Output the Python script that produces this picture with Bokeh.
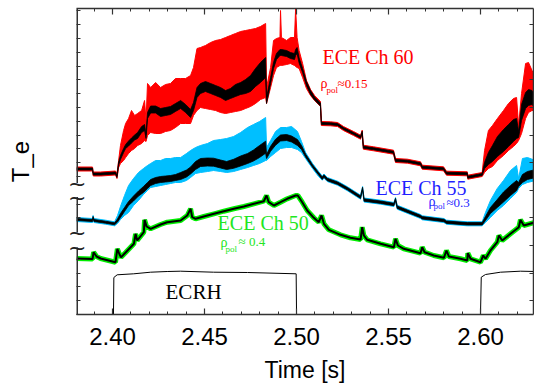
from bokeh.plotting import figure
from bokeh.models import (Range1d, LinearAxis, FixedTicker, PrintfTickFormatter, Label,
                          CustomLabelingPolicy, CustomJSTickFormatter, AllLabels)
from bokeh.embed import file_html
from bokeh.resources import INLINE

# ---------------- data (time in s, T_e in arbitrary units) ----------------
t60 = [2.3804, 2.3891, 2.3895, 2.3935, 2.4016, 2.4024, 2.4033, 2.4043, 2.4060, 2.4071,
       2.4087, 2.4103, 2.4120, 2.4136, 2.4158, 2.4174, 2.4182, 2.4190, 2.4207, 2.4234,
       2.4261, 2.4288, 2.4315, 2.4342, 2.4370, 2.4397, 2.4424, 2.4440, 2.4459, 2.4478,
       2.4505, 2.4533, 2.4560, 2.4587, 2.4614, 2.4641, 2.4668, 2.4696, 2.4723, 2.4750,
       2.4777, 2.4804, 2.4832, 2.4837, 2.4859, 2.4875, 2.4891, 2.4910, 2.4913, 2.4918,
       2.4946, 2.4967, 2.4989, 2.4995, 2.5003, 2.5014, 2.5033, 2.5054, 2.5076, 2.5098,
       2.5130, 2.5135, 2.5185, 2.5223, 2.5255, 2.5310, 2.5348, 2.5357, 2.5363, 2.5419,
       2.5527, 2.5538, 2.5603, 2.5674, 2.5683, 2.5799, 2.5815, 2.5928, 2.5931, 2.6009,
       2.6022, 2.6043, 2.6065, 2.6092, 2.6125, 2.6152, 2.6179, 2.6196, 2.6207, 2.6223,
       2.6245, 2.6261, 2.6280, 2.6299]
hi60 = [147.5, 147.5, 142.5, 142.5, 143.5, 141, 154, 169, 184, 191,
        196, 204, 199, 201, 204, 214, 194, 231, 227, 232,
        227, 230, 231, 236, 236, 236, 239, 247, 266, 267,
        269, 272, 274, 275, 277, 279, 281, 283, 284, 285,
        286, 288, 291, 227, 247, 274, 276, 277, 304, 277,
        274, 277, 277, 306, 277, 264, 251, 234, 225, 219,
        213, 193, 192.7, 192, 188, 183, 179.3, 184.3, 169.3, 167.7,
        164.3, 156, 155.3, 152.7, 149.3, 147.7, 143.3, 142.7, 139.3, 142,
        164, 184, 189, 196, 204, 211, 216, 217, 189, 221,
        251, 252, 244, 237]
lo60 = [143.5, 143.5, 138.5, 138.5, 139.5, 136, 147, 151, 154, 157,
        161, 164, 166, 169, 171, 174, 173, 179, 182, 181,
        181, 183, 184, 187, 191, 191, 191, 199, 204, 207,
        206, 205, 204, 202, 201, 202, 203, 204, 206, 208,
        211, 215, 217, 211, 227, 239, 247, 249, 249, 249,
        250, 251, 249, 248, 247, 246, 237, 226, 219, 214,
        208, 189, 188.7, 188, 184, 179, 175.3, 180.3, 165.3, 163.7,
        160.3, 152, 151.3, 148.7, 145.3, 143.7, 139.3, 138.7, 135.3, 138,
        142, 146, 148, 154, 159, 164, 168, 171, 174, 181,
        196, 202, 204, 204]
bhi60 = [146.5, 146.5, 141.5, 141.5, 142.5, 139, 152.5, 159, 166, 170,
         173.5, 176.5, 179.5, 182, 188, 190, 180, 202, 208.5, 208.5,
         206, 207, 208, 211, 214, 210, 205, 212, 227, 231,
         233, 231, 229, 227, 224, 226, 230, 232, 235, 239,
         246, 252, 257, 217, 237, 252, 261, 265, 265, 265,
         264, 262, 261, 265, 267, 256.5, 246, 233, 224, 217.5,
         211.5, 192, 191.7, 191, 187, 182, 178.3, 183.3, 168.3, 166.7,
         163.3, 155, 154.3, 151.7, 148.3, 146.7, 142.3, 141.7, 138.3, 141,
         152, 162, 169, 178, 185, 190, 195, 196, 183, 210,
         222, 225, 224, 218]
blo60 = [144.5, 144.5, 139.5, 139.5, 140.5, 137, 149.5, 155, 162, 166,
         168.5, 171.5, 174.5, 176, 182, 184, 176, 196, 201.5, 201.5,
         198, 199, 200, 203, 206, 202, 197, 204, 217, 221,
         223, 221, 219, 217, 214, 216, 218, 220, 221, 223,
         228, 232, 237, 211, 231, 246, 255, 259, 259, 259,
         258, 256, 255, 259, 261, 251.5, 242, 229, 220, 214.5,
         208.5, 190, 189.7, 189, 185, 180, 176.3, 181.3, 166.3, 164.7,
         161.3, 153, 152.3, 149.7, 146.3, 144.7, 140.3, 139.7, 136.3, 139,
         146, 150, 153, 158, 163, 168, 173, 176, 177, 194,
         206, 209, 210, 206]

t55 = [2.3804, 2.3891, 2.3894, 2.3899, 2.3962, 2.4011, 2.4027, 2.4043, 2.4065, 2.4087,
       2.4114, 2.4141, 2.4168, 2.4190, 2.4207, 2.4234, 2.4261, 2.4288, 2.4315, 2.4342,
       2.4370, 2.4402, 2.4424, 2.4451, 2.4478, 2.4516, 2.4549, 2.4587, 2.4620, 2.4658,
       2.4696, 2.4734, 2.4766, 2.4799, 2.4832, 2.4837, 2.4859, 2.4886, 2.4913, 2.4946,
       2.4973, 2.5005, 2.5027, 2.5049, 2.5087, 2.5120, 2.5140, 2.5149, 2.5167, 2.5223,
       2.5277, 2.5348, 2.5359, 2.5367, 2.5457, 2.5529, 2.5538, 2.5547, 2.5674, 2.5683,
       2.5801, 2.5815, 2.5928, 2.6009, 2.6027, 2.6054, 2.6091, 2.6125, 2.6163, 2.6196,
       2.6207, 2.6228, 2.6255, 2.6299]
hi55 = [97, 96, 99, 96, 94.3, 92.7, 99, 108, 119, 129,
        136, 142, 146, 149, 151, 154, 154, 156, 156, 157,
        157, 161, 164, 167, 169, 171, 174, 175, 176, 178,
        182, 187, 190, 193, 197, 167, 174, 183, 187, 187,
        188, 183, 173, 162, 151, 143, 138.3, 140.5, 137, 133.3,
        127.7, 119.3, 128, 116.5, 114.3, 112, 117, 109.3, 100, 98.7,
        96, 94.3, 92.7, 92.7, 102, 114, 126, 134, 144, 149,
        136, 156, 157, 154]
lo55 = [93, 92, 95, 92, 90.3, 88.7, 91, 95, 99, 102,
        109, 114, 120, 124, 127, 128, 129, 130, 131, 132,
        132, 134, 137, 141, 142, 143, 144, 143, 142, 143,
        145, 147, 149, 151, 154, 154, 158, 162, 166, 167,
        167, 165, 162, 156, 146, 138, 134.3, 136.5, 133, 129.3,
        123.7, 115.3, 124, 112.5, 110.3, 108, 113, 105.3, 96, 94.7,
        92, 90.3, 88.7, 88.7, 92, 97, 104, 109, 116, 122,
        126, 130, 132, 134]
bhi55 = [96, 95, 98, 95, 93.3, 91.7, 95.5, 101, 107, 113,
         118.5, 123.5, 128, 132, 135, 137, 138, 138.5, 139, 140,
         142, 144.5, 147.5, 153, 156, 156.5, 156.3, 154.5, 153, 155.2,
         158.5, 161, 164.5, 169, 173.3, 160, 168.2, 175.3, 179.5, 180,
         178.5, 175, 169, 160.5, 149.7, 141.9, 137.5, 139.7, 136.2, 132.5,
         126.9, 118.5, 127.2, 115.7, 113.5, 111.2, 116.2, 108.5, 99.2, 97.9,
         95.2, 93.5, 91.9, 91.9, 98, 107, 115, 122.5, 129, 134,
         132, 140, 143, 145]
blo55 = [94, 93, 96, 93, 91.3, 89.7, 92.5, 97, 103, 109,
         113.5, 118.5, 122, 126, 129, 131, 132, 132.5, 133, 134,
         135, 137.5, 140.5, 145, 148, 148.5, 148.3, 146.5, 145, 146.2,
         148.5, 151, 153.5, 157, 161.3, 156, 163.2, 169.3, 173.5, 174,
         172.5, 169, 165, 157.5, 147.3, 139.5, 135.1, 137.3, 133.8, 130.1,
         124.5, 116.1, 124.8, 113.3, 111.1, 108.8, 113.8, 106.1, 96.8, 95.5,
         92.8, 91.1, 89.5, 89.5, 94, 101, 107, 112.5, 119, 124,
         128, 132, 135, 137]

t50 = [2.3804, 2.3891, 2.3897, 2.3913, 2.3935, 2.4016, 2.4026, 2.4038, 2.4046, 2.4071,
       2.4116, 2.4125, 2.4134, 2.4170, 2.4174, 2.4185, 2.4207, 2.4261, 2.4297, 2.4370,
       2.4406, 2.4424, 2.4433, 2.4451, 2.4496, 2.4551, 2.4605, 2.4659, 2.4714, 2.4768,
       2.4822, 2.4837, 2.4849, 2.4877, 2.4913, 2.4949, 2.4995, 2.5007, 2.5031, 2.5058,
       2.5094, 2.5121, 2.5136, 2.5149, 2.5176, 2.5239, 2.5293, 2.5348, 2.5357, 2.5366,
       2.5384, 2.5457, 2.5529, 2.5538, 2.5551, 2.5583, 2.5674, 2.5683, 2.5696, 2.5746,
       2.5801, 2.5815, 2.5828, 2.5891, 2.5928, 2.5931, 2.5946, 2.6000, 2.6015, 2.6027,
       2.6054, 2.6091, 2.6100, 2.6118, 2.6163, 2.6208, 2.6217, 2.6235, 2.6299]
te50 = [56, 55.5, 62.3, 58, 56, 52.3, 65.7, 60, 57.3, 62,
        70.7, 80.7, 74, 82.3, 94.7, 88, 85.7, 90, 92.3, 94,
        99, 105.7, 97.3, 95.7, 98, 100.7, 103.3, 105.7, 108, 110.7,
        113.3, 119, 112.3, 109, 112.3, 115.7, 119, 119, 112.3, 104,
        96.7, 92.3, 99, 90.7, 84.7, 79.7, 76.7, 75, 87.3, 79,
        74.7, 70.7, 67.3, 75.7, 69, 65.7, 61.3, 67.3, 62.3, 59,
        56.7, 64, 58, 55.7, 54, 61.3, 55.7, 52.3, 59, 55.7,
        64, 72.3, 79, 74, 80.7, 87.3, 94.7, 89, 92.3]

t_rh = [2.3804, 2.4005, 2.4007, 2.4025, 2.4115, 2.4207, 2.4297, 2.4370, 2.4549,
        2.4734, 2.4998, 2.5000, 2.6000, 2.6004, 2.6027, 2.6109, 2.6217, 2.6299]
p_rh = [0, 0, 37, 39.7, 40.7, 42.3, 43, 43.3, 42.3,
        42, 40.7, 0, 0, 37.3, 40, 42.3, 43.3, 43]

# axis ticks and axis-break positions
x_major = [2.40, 2.45, 2.50, 2.55, 2.60]
x_minor = [2.38, 2.39, 2.41, 2.42, 2.43, 2.44, 2.46, 2.47, 2.48, 2.49,
           2.51, 2.52, 2.53, 2.54, 2.56, 2.57, 2.58, 2.59, 2.61, 2.62]
y_step = 13.8
y_left_k = [0, 1, 2, 3, 4, 7, 8, 10, 11, 12, 13, 14, 15, 16, 17, 18, 19, 20, 21, 22]
y_right_k = [1, 3, 5, 7, 9, 11, 13, 15, 17, 19, 21]
break_marks = [67.0, 82.0, 117.5, 131.5]
spine_lo = [0.0, 82.0, 131.5]
spine_hi = [67.0, 117.5, 306.0]

RED = "#ff0000"
CYAN = "#00bfff"
GREEN = "#00ee00"
AX = "#333333"

x_start, x_end = 2.3804, 2.6288
p = figure(width=534, height=388, output_backend="svg", toolbar_location=None,
           x_range=Range1d(x_start, x_end), y_range=Range1d(0, 306),
           min_border_left=76, min_border_right=1, min_border_top=8, min_border_bottom=74)
p.xgrid.visible = False
p.ygrid.visible = False
p.outline_line_color = None
p.background_fill_color = "white"
p.border_fill_color = "white"


def band(t, hi, lo, bhi, blo, color):
    p.varea(x=t, y1=lo, y2=hi, fill_color=color)
    p.line(t, hi, line_color=color, line_width=1)
    p.line(t, lo, line_color=color, line_width=1)
    p.varea(x=t, y1=blo, y2=bhi, fill_color="black")
    p.line(t, bhi, line_color="black", line_width=0.8)
    p.line(t, blo, line_color="black", line_width=0.8)


band(t60, hi60, lo60, bhi60, blo60, RED)
band(t55, hi55, lo55, bhi55, blo55, CYAN)
p.line(t50, te50, line_color=GREEN, line_width=5)
p.line(t50, te50, line_color="black", line_width=2)
p.line(t_rh, p_rh, line_color="black", line_width=1)

# broken left spine (half of the width falls inside the frame)
p.segment(x0=[x_start] * len(spine_lo), y0=spine_lo, x1=[x_start] * len(spine_hi), y1=spine_hi,
          line_color=AX, line_width=3)

NO_LABELS = CustomLabelingPolicy(code="for (const i of indices) { indices.unset(i) } return indices")


def style_axis(ax):
    ax.axis_line_color = AX
    ax.axis_line_width = 1.5
    ax.major_tick_line_color = AX
    ax.minor_tick_line_color = AX
    ax.major_tick_line_width = 1.2
    ax.minor_tick_line_width = 1
    ax.major_tick_out = 0
    ax.minor_tick_out = 0


def hide_labels(ax):
    ax.major_label_text_font_size = "0px"
    ax.major_label_standoff = 0
    ax.major_label_policy = NO_LABELS


xa = p.xaxis[0]
style_axis(xa)
xa.ticker = FixedTicker(ticks=x_major, minor_ticks=x_minor)
xa.formatter = PrintfTickFormatter(format="%.2f")
xa.major_tick_in = 6
xa.minor_tick_in = 3
xa.major_label_text_font = "Liberation Sans"
xa.major_label_text_font_size = "24px"
xa.major_label_text_color = "black"
xa.major_label_standoff = 13
xa.axis_label = "Time [s]"
xa.axis_label_text_font = "Liberation Sans"
xa.axis_label_text_font_size = "23px"
xa.axis_label_text_font_style = "normal"
xa.axis_label_text_color = "black"
xa.axis_label_standoff = 9

# left axis: ticks inward, axis-break marks drawn as the major labels
ya = p.yaxis[0]
style_axis(ya)
ya.axis_line_color = None
ya.ticker = FixedTicker(ticks=break_marks, minor_ticks=[k * y_step for k in y_left_k])
ya.formatter = CustomJSTickFormatter(code="return '~'")
ya.major_tick_line_color = None
ya.major_tick_in = 0
ya.minor_tick_in = 4
ya.major_label_policy = AllLabels()
ya.major_label_text_font = "DejaVu Sans"
ya.major_label_text_font_size = "22px"
ya.major_label_text_color = "#222222"
ya.major_label_standoff = -10
ya.axis_label = "T_e"
ya.axis_label_text_font = "Liberation Sans"
ya.axis_label_text_font_size = "24px"
ya.axis_label_text_font_style = "normal"
ya.axis_label_text_color = "black"
ya.axis_label_standoff = 31

top = LinearAxis(ticker=FixedTicker(ticks=x_major, minor_ticks=x_minor))
style_axis(top)
hide_labels(top)
top.major_tick_in = 6
top.minor_tick_in = 3
p.add_layout(top, "above")

right = LinearAxis(ticker=FixedTicker(ticks=[k * y_step for k in y_right_k], minor_ticks=[]))
style_axis(right)
hide_labels(right)
right.major_tick_in = 4
p.add_layout(right, "right")


def lab(x, y, text, size, color, font="Liberation Serif"):
    p.add_layout(Label(x=x, y=y, text=text, text_font=font, text_font_size=size,
                       text_color=color, text_baseline="alphabetic", text_align="left"))


lab(2.5141, 258, "ECE Ch 60", "20px", RED)
lab(2.5130, 231, "\u03c1", "14px", RED)
lab(2.5163, 225, "pol", "9px", RED)
lab(2.5223, 231, "\u22480.15", "13px", RED)

BLUE_T = "#1f1fff"
lab(2.5429, 127, "ECE Ch 55", "20px", BLUE_T)
lab(2.5717, 113, "\u03c1", "14px", BLUE_T)
lab(2.5745, 109, "pol", "9px", BLUE_T)
lab(2.5815, 112, "\u22480.3", "13px", BLUE_T)

GREEN_T = "#22e622"
lab(2.4571, 92, "ECE Ch 50", "20px", GREEN_T)
lab(2.4587, 72, "\u03c1", "14px", GREEN_T)
lab(2.4614, 66, "pol", "9px", GREEN_T)
lab(2.4685, 73, "\u2248 0.4", "13px", GREEN_T)

lab(2.4288, 23, "ECRH", "21px", "black")

open("out.html", "w").write(file_html(p, INLINE))
